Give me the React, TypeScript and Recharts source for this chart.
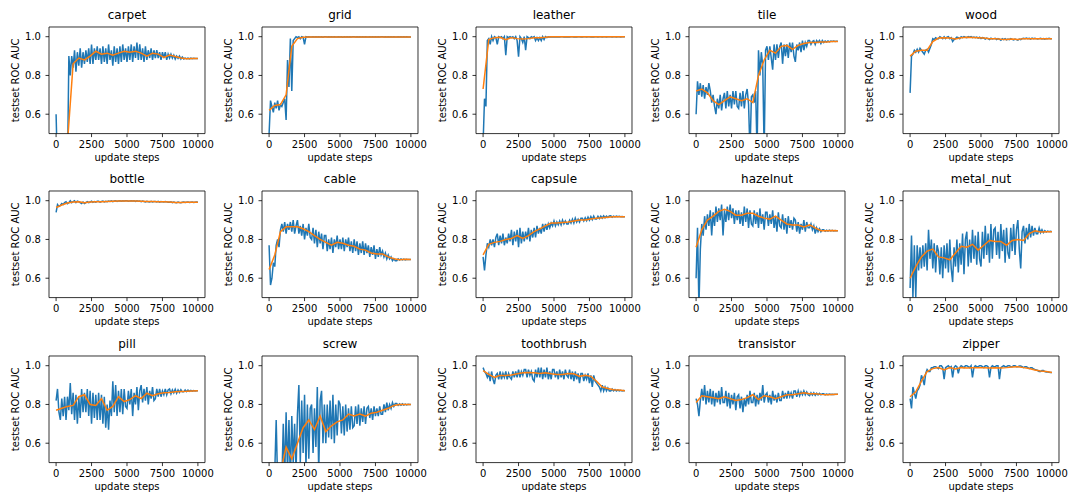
import React from 'react';
import { LineChart, Line, XAxis, YAxis } from 'recharts';

// x positions (update steps)
const steps = [
  0, 100, 200, 300, 400, 500, 600, 700, 800, 900,
  1000, 1100, 1200, 1300, 1400, 1500, 1600, 1700, 1800, 1900,
  2000, 2100, 2200, 2300, 2400, 2500, 2600, 2700, 2800, 2900,
  3000, 3100, 3200, 3300, 3400, 3500, 3600, 3700, 3800, 3900,
  4000, 4100, 4200, 4300, 4400, 4500, 4600, 4700, 4800, 4900,
  5000, 5100, 5200, 5300, 5400, 5500, 5600, 5700, 5800, 5900,
  6000, 6100, 6200, 6300, 6400, 6500, 6600, 6700, 6800, 6900,
  7000, 7100, 7200, 7300, 7400, 7500, 7600, 7700, 7800, 7900,
  8000, 8100, 8200, 8300, 8400, 8500, 8600, 8700, 8800, 8900,
  9000, 9100, 9200, 9300, 9400, 9500, 9600, 9700, 9800, 9900,
  10000,
];
const smoothSteps = [0, 400, 800, 1200, 1600, 2000, 2400, 2800, 3200, 3600, 4000, 4400, 4800, 5200, 5600, 6000, 6400, 6800, 7200, 7600, 8000, 8400, 8800, 9200, 9600, 10000];

const categories = ['carpet', 'grid', 'leather', 'tile', 'wood', 'bottle', 'cable', 'capsule', 'hazelnut', 'metal_nut', 'pill', 'screw', 'toothbrush', 'transistor', 'zipper'];
const xTicks = [0, 2500, 5000, 7500, 10000];
const yTicks = [0.6, 0.8, 1.0];

const carpetRaw = [
  0.6, 0.3, 0.3, 0.3, 0.3, 0.3, 0.3, 0.3, 0.3, 0.9,
  0.8, 0.9, 0.84, 0.93, 0.82, 0.92, 0.85, 0.94, 0.84, 0.92,
  0.86, 0.93, 0.87, 0.94, 0.86, 0.96, 0.86, 0.94, 0.88, 0.95,
  0.88, 0.94, 0.86, 0.95, 0.87, 0.94, 0.86, 0.96, 0.88, 0.93,
  0.85, 0.95, 0.87, 0.94, 0.86, 0.95, 0.87, 0.96, 0.88, 0.94,
  0.87, 0.95, 0.88, 0.96, 0.87, 0.95, 0.89, 0.97, 0.88, 0.96,
  0.88, 0.94, 0.87, 0.95, 0.88, 0.93, 0.89, 0.94, 0.88, 0.93,
  0.89, 0.93, 0.89, 0.92, 0.88, 0.92, 0.89, 0.92, 0.88, 0.91,
  0.89, 0.91, 0.89, 0.905, 0.885, 0.9, 0.888, 0.9, 0.885, 0.895,
  0.885, 0.89, 0.886, 0.889, 0.885, 0.889, 0.886, 0.889, 0.887, 0.888,
  0.888,
];
const carpetSmooth = [null, null, 0.45, 0.86, 0.89, 0.88, 0.9, 0.925, 0.91, 0.915, 0.905, 0.915, 0.925, 0.92, 0.925, 0.915, 0.9, 0.915, 0.91, 0.893, 0.905, 0.898, 0.89, 0.886, 0.887, 0.888];

const gridRaw = [
  0.5, 0.67, 0.64, 0.61, 0.66, 0.63, 0.67, 0.62, 0.65, 0.64,
  0.66, 0.68, 0.57, 0.88, 0.74, 0.99, 0.72, 0.98, 0.99, 1.0,
  0.995, 1.0, 0.99, 1.0, 0.997, 0.96, 1.0, 0.998, 1.0, 0.999,
  0.998, 1.0, 0.999, 1.0, 0.998, 1.0, 0.999, 1.0, 0.997, 1.0,
  1.0, 0.999, 1.0, 0.998, 1.0, 0.999, 1.0, 0.999, 0.998, 1.0,
  0.999, 1.0, 0.997, 1.0, 0.999, 1.0, 0.998, 1.0, 0.999, 1.0,
  1.0, 0.999, 1.0, 0.998, 1.0, 0.999, 1.0, 0.999, 1.0, 0.998,
  0.999, 1.0, 0.999, 1.0, 0.998, 1.0, 0.999, 1.0, 0.999, 1.0,
  1.0, 0.999, 1.0, 0.999, 1.0, 0.998, 1.0, 0.999, 1.0, 0.999,
  0.999, 1.0, 0.998, 1.0, 0.999, 1.0, 0.999, 1.0, 0.999, 0.999,
  0.999,
];
const gridSmooth = [0.62, 0.645, 0.65, 0.7, 0.95, 0.99, 0.997, 0.998, 0.999, 0.999, 0.999, 0.999, 0.999, 0.999, 0.999, 0.999, 0.999, 0.999, 0.999, 0.999, 0.999, 0.999, 0.999, 0.999, 0.999, 0.999];

const leatherRaw = [
  0.45, 0.68, 0.64, 0.98, 0.99, 0.96, 1.0, 0.98, 1.0, 0.995,
  0.96, 1.0, 0.995, 1.0, 0.99, 1.0, 0.905, 1.0, 0.995, 1.0,
  0.995, 1.0, 0.99, 1.0, 0.98, 0.897, 1.0, 0.99, 0.97, 1.0,
  0.93, 1.0, 0.995, 0.99, 1.0, 0.995, 1.0, 0.98, 0.995, 0.98,
  0.995, 0.98, 1.0, 0.985, 1.0, 0.995, 1.0, 0.999, 1.0, 0.998,
  0.999, 1.0, 0.998, 1.0, 0.999, 1.0, 1.0, 0.999, 1.0, 0.999,
  1.0, 0.999, 1.0, 1.0, 0.999, 1.0, 0.999, 1.0, 1.0, 0.999,
  0.999, 1.0, 1.0, 0.999, 1.0, 1.0, 0.999, 1.0, 0.999, 1.0,
  1.0, 0.999, 1.0, 1.0, 0.999, 1.0, 1.0, 0.999, 1.0, 1.0,
  1.0, 0.999, 1.0, 1.0, 0.999, 1.0, 1.0, 0.999, 1.0, 1.0,
  1.0,
];
const leatherSmooth = [0.73, 0.985, 0.995, 0.997, 0.985, 0.995, 0.99, 0.988, 0.99, 0.995, 0.995, 0.997, 1.0, 1.0, 1.0, 1.0, 1.0, 1.0, 1.0, 1.0, 1.0, 1.0, 1.0, 1.0, 1.0, 1.0];

const tileRaw = [
  0.6, 0.77, 0.7, 0.76, 0.69, 0.75, 0.68, 0.74, 0.7, 0.76,
  0.72, 0.66, 0.7, 0.64, 0.6, 0.68, 0.63, 0.7, 0.62, 0.68,
  0.71, 0.63, 0.72, 0.64, 0.7, 0.63, 0.72, 0.65, 0.72, 0.64,
  0.63, 0.71, 0.64, 0.72, 0.63, 0.7, 0.73, 0.65, 0.4, 0.69,
  0.7, 0.66, 0.72, 0.4, 0.93, 0.8, 0.92, 0.85, 0.4, 0.93,
  0.95, 0.88, 0.95, 0.89, 0.83, 0.96, 0.88, 0.96, 0.89, 0.95,
  0.97, 0.86, 0.96, 0.9, 0.96, 0.89, 0.97, 0.92, 0.97, 0.9,
  0.87, 0.96, 0.93, 0.97, 0.92, 0.98, 0.93, 0.97, 0.95, 0.98,
  0.98, 0.96, 0.975, 0.98, 0.96, 0.98, 0.97, 0.98, 0.965, 0.98,
  0.97, 0.978, 0.972, 0.978, 0.973, 0.977, 0.975, 0.977, 0.975, 0.976,
  0.976,
];
const tileSmooth = [0.72, 0.73, 0.71, 0.67, 0.65, 0.67, 0.69, 0.68, 0.67, 0.68, 0.66, 0.8, 0.88, 0.93, 0.915, 0.95, 0.955, 0.935, 0.955, 0.965, 0.97, 0.97, 0.972, 0.973, 0.975, 0.975];

const woodRaw = [
  0.71, 0.9, 0.91, 0.93, 0.92, 0.935, 0.92, 0.94, 0.93, 0.92,
  0.91, 0.93, 0.935, 0.92, 0.94, 0.96, 0.99, 0.985, 0.995, 0.99,
  0.99, 1.0, 0.995, 0.99, 1.0, 0.99, 0.998, 1.0, 0.99, 0.995,
  0.975, 0.985, 0.99, 0.998, 0.995, 0.99, 1.0, 0.995, 1.0, 0.997,
  0.995, 1.0, 0.997, 1.0, 0.995, 0.998, 0.995, 0.998, 0.993, 0.997,
  0.99, 0.995, 0.993, 0.988, 0.993, 0.99, 0.985, 0.992, 0.988, 0.99,
  0.992, 0.985, 0.99, 0.987, 0.982, 0.99, 0.985, 0.99, 0.984, 0.988,
  0.985, 0.99, 0.986, 0.983, 0.988, 0.985, 0.982, 0.988, 0.985, 0.99,
  0.992, 0.99, 0.993, 0.99, 0.992, 0.988, 0.993, 0.99, 0.992, 0.99,
  0.988, 0.99, 0.992, 0.988, 0.99, 0.987, 0.991, 0.99, 0.992, 0.99,
  0.99,
];
const woodSmooth = [0.9, 0.925, 0.93, 0.93, 0.975, 0.993, 0.995, 0.993, 0.988, 0.995, 0.997, 0.996, 0.995, 0.993, 0.99, 0.99, 0.987, 0.986, 0.988, 0.985, 0.99, 0.99, 0.99, 0.99, 0.99, 0.99];

const bottleRaw = [
  0.94, 0.98, 0.97, 0.975, 0.985, 0.98, 0.99, 0.995, 0.985, 0.99,
  1.0, 0.99, 0.995, 1.0, 0.99, 0.998, 0.995, 0.99, 0.985, 0.993,
  0.985, 0.99, 0.995, 0.99, 0.993, 0.998, 0.992, 0.996, 0.993, 0.997,
  0.997, 0.993, 0.996, 0.998, 0.994, 0.997, 0.995, 0.998, 0.996, 0.999,
  0.995, 0.998, 1.0, 0.996, 0.999, 1.0, 0.997, 1.0, 0.998, 1.0,
  1.0, 0.997, 0.999, 1.0, 0.998, 1.0, 0.996, 0.999, 0.997, 0.998,
  0.995, 0.998, 0.996, 0.994, 0.997, 0.995, 0.993, 0.997, 0.994, 0.996,
  0.996, 0.994, 0.997, 0.993, 0.996, 0.994, 0.993, 0.996, 0.994, 0.992,
  0.992, 0.994, 0.99, 0.993, 0.991, 0.99, 0.993, 0.991, 0.99, 0.992,
  0.993, 0.991, 0.992, 0.993, 0.991, 0.992, 0.993, 0.991, 0.992, 0.993,
  0.992,
];
const bottleSmooth = [0.965, 0.978, 0.988, 0.993, 0.995, 0.99, 0.993, 0.994, 0.995, 0.996, 0.997, 0.998, 0.999, 0.999, 0.998, 0.997, 0.996, 0.996, 0.995, 0.995, 0.993, 0.991, 0.991, 0.992, 0.992, 0.992];

const cableRaw = [
  0.77, 0.565, 0.6, 0.68, 0.66, 0.77, 0.8, 0.76, 0.85, 0.88,
  0.84, 0.89, 0.83, 0.88, 0.85, 0.89, 0.84, 0.9, 0.83, 0.87,
  0.9, 0.83, 0.87, 0.82, 0.88, 0.8, 0.86, 0.82, 0.88, 0.81,
  0.8, 0.86, 0.78, 0.85, 0.76, 0.84, 0.78, 0.83, 0.75, 0.82,
  0.82, 0.74, 0.8, 0.75, 0.81, 0.73, 0.8, 0.76, 0.82, 0.75,
  0.8, 0.75, 0.81, 0.74, 0.8, 0.76, 0.81, 0.74, 0.79, 0.73,
  0.8, 0.74, 0.79, 0.72, 0.78, 0.73, 0.79, 0.72, 0.78, 0.73,
  0.77, 0.71, 0.76, 0.72, 0.77, 0.7, 0.75, 0.71, 0.76, 0.72,
  0.74, 0.71, 0.73, 0.7, 0.72, 0.7, 0.71, 0.69, 0.7, 0.69,
  0.69, 0.7, 0.694, 0.7, 0.695, 0.699, 0.695, 0.698, 0.696, 0.697,
  0.697,
];
const cableSmooth = [0.645, 0.72, 0.84, 0.865, 0.865, 0.865, 0.855, 0.84, 0.82, 0.8, 0.785, 0.77, 0.785, 0.78, 0.77, 0.765, 0.75, 0.745, 0.73, 0.725, 0.725, 0.71, 0.7, 0.695, 0.698, 0.697];

const capsuleRaw = [
  0.71, 0.64, 0.72, 0.78, 0.76, 0.8, 0.77, 0.8, 0.76, 0.81,
  0.83, 0.77, 0.82, 0.78, 0.83, 0.77, 0.81, 0.78, 0.83, 0.79,
  0.85, 0.77, 0.84, 0.79, 0.85, 0.76, 0.86, 0.78, 0.84, 0.79,
  0.84, 0.8, 0.86, 0.79, 0.85, 0.81, 0.86, 0.81, 0.87, 0.83,
  0.86, 0.83, 0.88, 0.84, 0.88, 0.85, 0.88, 0.86, 0.885, 0.87,
  0.895, 0.87, 0.89, 0.875, 0.895, 0.875, 0.9, 0.88, 0.895, 0.88,
  0.88, 0.9, 0.885, 0.905, 0.885, 0.91, 0.89, 0.905, 0.89, 0.91,
  0.91, 0.895, 0.912, 0.897, 0.915, 0.9, 0.918, 0.902, 0.92, 0.905,
  0.905, 0.92, 0.908, 0.92, 0.91, 0.922, 0.912, 0.92, 0.913, 0.921,
  0.922, 0.915, 0.92, 0.916, 0.92, 0.917, 0.919, 0.917, 0.918, 0.917,
  0.917,
];
const capsuleSmooth = [0.72, 0.775, 0.785, 0.79, 0.8, 0.805, 0.82, 0.805, 0.82, 0.84, 0.855, 0.87, 0.885, 0.885, 0.888, 0.89, 0.895, 0.9, 0.9, 0.905, 0.91, 0.912, 0.915, 0.917, 0.917, 0.917];

const hazelnutRaw = [
  0.6, 0.86, 0.45, 0.75, 0.88, 0.82, 0.92, 0.85, 0.93, 0.87,
  0.95, 0.82, 0.94, 0.87, 0.97, 0.89, 0.96, 0.9, 0.98, 0.82,
  0.95, 0.89, 0.97, 0.9, 0.98, 0.91, 0.96, 0.88, 0.95, 0.9,
  0.95, 0.88, 0.94, 0.87, 0.97, 0.89, 0.96, 0.86, 0.95, 0.88,
  0.87, 0.95, 0.88, 0.94, 0.86, 0.96, 0.88, 0.93, 0.85, 0.94,
  0.94, 0.87, 0.93, 0.88, 0.95, 0.86, 0.92, 0.84, 0.94, 0.87,
  0.86, 0.93, 0.85, 0.91, 0.83, 0.92, 0.86, 0.9, 0.85, 0.91,
  0.9, 0.84, 0.89, 0.83, 0.88, 0.85, 0.9, 0.84, 0.89, 0.86,
  0.86, 0.88, 0.85, 0.87, 0.83, 0.86, 0.84, 0.855, 0.84, 0.85,
  0.85, 0.842, 0.848, 0.843, 0.848, 0.844, 0.847, 0.844, 0.846, 0.845,
  0.845,
];
const hazelnutSmooth = [0.76, 0.85, 0.9, 0.92, 0.945, 0.955, 0.945, 0.925, 0.925, 0.935, 0.935, 0.92, 0.91, 0.905, 0.92, 0.9, 0.88, 0.875, 0.875, 0.865, 0.875, 0.86, 0.845, 0.845, 0.846, 0.845];

const metalNutRaw = [
  0.55, 0.82, 0.5, 0.77, 0.5, 0.77, 0.64, 0.76, 0.65, 0.77,
  0.66, 0.78, 0.64, 0.85, 0.7, 0.8, 0.65, 0.78, 0.63, 0.77,
  0.74, 0.62, 0.76, 0.6, 0.77, 0.65, 0.78, 0.63, 0.8, 0.65,
  0.58, 0.76, 0.66, 0.8, 0.63, 0.78, 0.67, 0.83, 0.62, 0.8,
  0.84, 0.66, 0.8, 0.68, 0.85, 0.7, 0.82, 0.67, 0.84, 0.7,
  0.66, 0.84, 0.7, 0.87, 0.72, 0.83, 0.68, 0.88, 0.7, 0.85,
  0.86, 0.72, 0.84, 0.7, 0.88, 0.74, 0.85, 0.68, 0.86, 0.73,
  0.7, 0.86, 0.74, 0.88, 0.72, 0.85, 0.9, 0.75, 0.65, 0.84,
  0.87, 0.78, 0.86, 0.8, 0.88, 0.81, 0.87, 0.82, 0.86, 0.83,
  0.83, 0.86, 0.835, 0.85, 0.835, 0.845, 0.838, 0.843, 0.84, 0.842,
  0.84,
];
const metalNutSmooth = [0.6, 0.66, 0.71, 0.74, 0.75, 0.71, 0.705, 0.695, 0.73, 0.765, 0.76, 0.775, 0.745, 0.77, 0.795, 0.79, 0.79, 0.77, 0.795, 0.8, 0.795, 0.83, 0.845, 0.838, 0.84, 0.84];

const pillRaw = [
  0.82, 0.88, 0.76, 0.72, 0.83, 0.74, 0.84, 0.72, 0.84, 0.77,
  0.91, 0.75, 0.86, 0.72, 0.85, 0.7, 0.84, 0.73, 0.88, 0.76,
  0.86, 0.76, 0.88, 0.74, 0.87, 0.7, 0.86, 0.73, 0.85, 0.72,
  0.86, 0.72, 0.85, 0.7, 0.84, 0.68, 0.8, 0.67, 0.82, 0.74,
  0.92, 0.76, 0.9, 0.74, 0.87, 0.76, 0.88, 0.75, 0.88, 0.79,
  0.78, 0.87, 0.8, 0.88, 0.74, 0.86, 0.8, 0.89, 0.77, 0.87,
  0.9, 0.81, 0.88, 0.82, 0.89, 0.8, 0.87, 0.83, 0.89, 0.82,
  0.83, 0.88, 0.84, 0.88, 0.84, 0.87, 0.85, 0.88, 0.85, 0.875,
  0.88, 0.855, 0.875, 0.86, 0.878, 0.858, 0.875, 0.862, 0.876, 0.865,
  0.865, 0.875, 0.866, 0.874, 0.868, 0.873, 0.869, 0.872, 0.87, 0.871,
  0.871,
];
const pillSmooth = [0.77, 0.78, 0.79, 0.795, 0.84, 0.85, 0.8, 0.795, 0.83, 0.77, 0.79, 0.84, 0.815, 0.825, 0.845, 0.83, 0.858, 0.845, 0.855, 0.86, 0.862, 0.865, 0.867, 0.868, 0.87, 0.871];

const screwRaw = [
  0.35, 0.3, 0.4, 0.3, 0.45, 0.72, 0.4, 0.3, 0.45, 0.4,
  0.7, 0.42, 0.76, 0.45, 0.72, 0.4, 0.74, 0.5, 0.7, 0.45,
  0.75, 0.9, 0.5, 0.82, 0.55, 0.85, 0.48, 0.8, 0.52, 0.78,
  0.8, 0.55, 0.78, 0.58, 0.89, 0.45, 0.82, 0.87, 0.6, 0.8,
  0.6, 0.8, 0.63, 0.82, 0.62, 0.85, 0.6, 0.8, 0.64, 0.82,
  0.8, 0.65, 0.79, 0.64, 0.8, 0.66, 0.78, 0.67, 0.79, 0.68,
  0.69, 0.79, 0.7, 0.8, 0.69, 0.78, 0.71, 0.79, 0.7, 0.78,
  0.79, 0.73, 0.78, 0.72, 0.79, 0.74, 0.78, 0.74, 0.79, 0.75,
  0.75, 0.8, 0.76, 0.81, 0.77, 0.8, 0.78, 0.81, 0.79, 0.805,
  0.805, 0.795, 0.803, 0.796, 0.803, 0.797, 0.802, 0.798, 0.801, 0.8,
  0.8,
];
const screwSmooth = [0.4, 0.42, 0.45, 0.58, 0.52, 0.6, 0.68, 0.72, 0.67, 0.74, 0.66, 0.69, 0.71, 0.72, 0.75, 0.74, 0.75, 0.74, 0.755, 0.76, 0.77, 0.78, 0.795, 0.8, 0.8, 0.8];

const toothbrushRaw = [
  0.99, 0.97, 0.96, 0.94, 0.96, 0.92, 0.97, 0.93, 0.905, 0.95,
  0.96, 0.93, 0.97, 0.93, 0.96, 0.94, 0.97, 0.93, 0.96, 0.94,
  0.93, 0.97, 0.94, 0.97, 0.94, 0.98, 0.94, 0.97, 0.95, 0.98,
  0.98, 0.94, 0.98, 0.95, 0.97, 0.93, 0.92, 0.98, 0.94, 0.99,
  0.94, 0.99, 0.93, 0.98, 0.94, 0.99, 0.93, 0.97, 0.93, 0.98,
  0.98, 0.94, 0.97, 0.93, 0.98, 0.94, 0.97, 0.93, 0.98, 0.95,
  0.94, 0.98, 0.93, 0.97, 0.92, 0.97, 0.93, 0.96, 0.91, 0.96,
  0.96, 0.92, 0.95, 0.93, 0.96, 0.91, 0.95, 0.89, 0.95, 0.92,
  0.91, 0.9, 0.89, 0.87, 0.9, 0.87, 0.89, 0.87, 0.885, 0.87,
  0.87, 0.88, 0.87, 0.877, 0.869, 0.875, 0.87, 0.873, 0.87, 0.872,
  0.871,
];
const toothbrushSmooth = [0.975, 0.955, 0.94, 0.95, 0.95, 0.952, 0.958, 0.963, 0.965, 0.963, 0.96, 0.964, 0.958, 0.955, 0.955, 0.96, 0.958, 0.945, 0.95, 0.945, 0.92, 0.89, 0.882, 0.876, 0.874, 0.871];

const transistorRaw = [
  0.83, 0.8, 0.74, 0.82, 0.88, 0.82, 0.9, 0.8, 0.87, 0.81,
  0.88, 0.8, 0.87, 0.79, 0.86, 0.81, 0.87, 0.8, 0.89, 0.81,
  0.81, 0.87, 0.79, 0.86, 0.78, 0.85, 0.8, 0.86, 0.77, 0.84,
  0.85, 0.78, 0.84, 0.76, 0.83, 0.79, 0.85, 0.8, 0.87, 0.81,
  0.81, 0.86, 0.79, 0.85, 0.8, 0.86, 0.82, 0.9, 0.81, 0.85,
  0.86, 0.81, 0.85, 0.8, 0.87, 0.82, 0.85, 0.81, 0.86, 0.82,
  0.82, 0.87, 0.83, 0.86, 0.83, 0.87, 0.84, 0.86, 0.83, 0.87,
  0.87, 0.84, 0.87, 0.845, 0.865, 0.85, 0.87, 0.85, 0.865, 0.85,
  0.845, 0.86, 0.848, 0.86, 0.847, 0.858, 0.849, 0.857, 0.85, 0.855,
  0.855, 0.85, 0.854, 0.85, 0.854, 0.851, 0.853, 0.851, 0.853, 0.852,
  0.852,
];
const transistorSmooth = [0.81, 0.845, 0.84, 0.835, 0.83, 0.84, 0.83, 0.82, 0.825, 0.835, 0.85, 0.825, 0.845, 0.84, 0.83, 0.84, 0.85, 0.85, 0.855, 0.86, 0.855, 0.855, 0.852, 0.85, 0.851, 0.852];

const zipperRaw = [
  0.83, 0.78, 0.89, 0.86, 0.83, 0.87, 0.88, 0.9, 0.95, 0.93,
  0.9, 0.96, 0.98, 0.97, 0.97, 0.99, 0.99, 0.995, 0.995, 0.99,
  0.985, 1.0, 1.0, 0.99, 0.93, 0.99, 0.995, 1.0, 0.99, 0.995,
  0.94, 0.99, 1.0, 0.995, 0.96, 0.99, 1.0, 0.995, 0.99, 1.0,
  1.0, 0.995, 0.99, 1.0, 0.94, 0.99, 1.0, 0.995, 0.995, 1.0,
  1.0, 0.995, 0.99, 1.0, 1.0, 0.995, 0.94, 0.99, 1.0, 0.995,
  0.995, 1.0, 1.0, 0.93, 0.99, 0.995, 1.0, 0.995, 0.995, 1.0,
  1.0, 0.995, 0.995, 1.0, 1.0, 0.995, 0.995, 0.998, 0.998, 0.995,
  0.99, 0.995, 0.995, 0.99, 0.985, 0.99, 0.99, 0.983, 0.98, 0.978,
  0.975, 0.97, 0.97, 0.975, 0.975, 0.97, 0.968, 0.967, 0.966, 0.965,
  0.965,
];
const zipperSmooth = [0.84, 0.865, 0.92, 0.97, 0.985, 0.99, 0.978, 0.99, 0.983, 0.99, 0.988, 0.99, 0.99, 0.99, 0.988, 0.99, 0.988, 0.99, 0.993, 0.995, 0.99, 0.985, 0.978, 0.973, 0.97, 0.965];

const rawSeries = [carpetRaw, gridRaw, leatherRaw, tileRaw, woodRaw, bottleRaw, cableRaw, capsuleRaw, hazelnutRaw, metalNutRaw, pillRaw, screwRaw, toothbrushRaw, transistorRaw, zipperRaw];
const smoothSeries = [carpetSmooth, gridSmooth, leatherSmooth, tileSmooth, woodSmooth, bottleSmooth, cableSmooth, capsuleSmooth, hazelnutSmooth, metalNutSmooth, pillSmooth, screwSmooth, toothbrushSmooth, transistorSmooth, zipperSmooth];

// layout
const FONT = "'DejaVu Sans', sans-serif";
const BOX_W = 156;
const BOX_H = 106.6;
const YW = 48;
const MT = 27;
const MR = 22;
const XH = 35;
const CW = YW + BOX_W + MR;
const CH = MT + BOX_H + XH;
const colLeft = [48.7, 262.2, 475.6, 689.2, 902.8];
const rowTop = [27.3, 191.4, 356];

const BLUE = '#1f77b4';
const ORANGE = '#ff7f0e';

function Panel({ title, raw, smooth, left, top }: { title: string; raw: number[]; smooth: (number | null)[]; left: number; top: number }) {
  const rows = steps.map((s, i) => {
    const j = smoothSteps.indexOf(s);
    return { step: s, raw: raw[i], smooth: j >= 0 ? smooth[j] : undefined };
  });
  const cx = YW + BOX_W / 2;
  const cy = MT + BOX_H / 2;
  const axisStyle = { stroke: '#000', strokeWidth: 0.8 };
  return (
    <div style={{ position: 'absolute', left: left - YW, top: top - MT }}>
      <LineChart width={CW} height={CH} data={rows} margin={{ top: MT, right: MR, bottom: 0, left: 0 }}>
        <XAxis
          dataKey="step"
          type="number"
          domain={[-500, 10500]}
          allowDataOverflow
          ticks={xTicks}
          interval={0}
          height={XH}
          tickSize={3.5}
          tickMargin={3.7}
          tick={{ fontSize: 10, fill: '#000', fontFamily: FONT }}
          axisLine={axisStyle}
          tickLine={axisStyle}
          label={{
            content: () => (
              <text x={cx} y={MT + BOX_H + 27.3} textAnchor="middle" fontSize={10} fill="#000" fontFamily={FONT}>
                update steps
              </text>
            ),
          }}
        />
        <YAxis
          type="number"
          domain={[0.5, 1.05]}
          allowDataOverflow
          ticks={yTicks}
          interval={0}
          width={YW}
          tickSize={3.5}
          tickMargin={4.5}
          tickFormatter={(v: number) => v.toFixed(1)}
          tick={{ fontSize: 10, fill: '#000', fontFamily: FONT }}
          axisLine={axisStyle}
          tickLine={axisStyle}
          label={{
            content: () => (
              <g>
                <text x={18.3} y={cy} textAnchor="middle" fontSize={10} fill="#000" fontFamily={FONT} transform={`rotate(-90, 18.3, ${cy})`}>
                  testset ROC AUC
                </text>
                <text x={cx} y={MT - 7.5} textAnchor="middle" fontSize={12} fill="#000" fontFamily={FONT}>
                  {title}
                </text>
                <line x1={YW} y1={MT} x2={YW + BOX_W} y2={MT} stroke="#000" strokeWidth={0.8} />
                <line x1={YW + BOX_W} y1={MT} x2={YW + BOX_W} y2={MT + BOX_H} stroke="#000" strokeWidth={0.8} />
              </g>
            ),
          }}
        />
        <Line type="linear" dataKey="raw" stroke={BLUE} strokeWidth={1.5} dot={false} activeDot={false} isAnimationActive={false} />
        <Line type="linear" dataKey="smooth" stroke={ORANGE} strokeWidth={1.5} dot={false} activeDot={false} connectNulls isAnimationActive={false} />
      </LineChart>
    </div>
  );
}

export default function App() {
  return (
    <div style={{ position: 'absolute', left: 0, top: 0, width: 1080, height: 504, background: '#fff', fontFamily: FONT, overflow: 'hidden' }}>
      {categories.map((name, k) => (
        <Panel
          key={name}
          title={name}
          raw={rawSeries[k]}
          smooth={smoothSeries[k]}
          left={colLeft[k % 5]}
          top={rowTop[Math.floor(k / 5)]}
        />
      ))}
    </div>
  );
}
